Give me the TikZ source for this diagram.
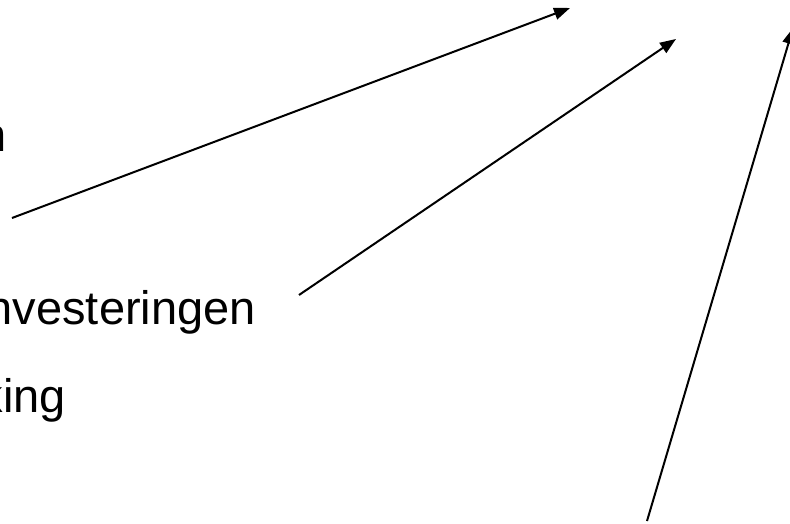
\documentclass[tikz,border=0pt]{standalone}
\usepackage{fontspec}
\setmainfont{Liberation Sans}
\usetikzlibrary{arrows.meta,%
		positioning}

\begin{document}
\begin{tikzpicture}[x=1pt,y=-1pt,
	testo/.style={font=\fontsize{47}{56}\selectfont, inner sep=0pt, anchor=base east},
	freccia/.style={line width=2pt, -{Triangle[length=16pt,width=12pt]}}]
\useasboundingbox (0,0) rectangle (790,524);
%Righe di testo
\node[testo] (riga1) at (7,152) {n};
\node[testo] (riga2) at (256,324) {nvesteringen};
\node[testo] (riga3) at (66,412) {king};
%Frecce
\coordinate (P1) at (12,218);
\coordinate (Q1) at (570,8);
\coordinate (P2) at (299,295);
\coordinate (Q2) at (676,39);
\coordinate (P3) at (647,521);
\coordinate (Q3) at (793,28);
\draw[freccia] (P1) -- (Q1);
\draw[freccia] (P2) -- (Q2);
\draw[freccia] (P3) -- (Q3);
\end{tikzpicture}
\end{document}
